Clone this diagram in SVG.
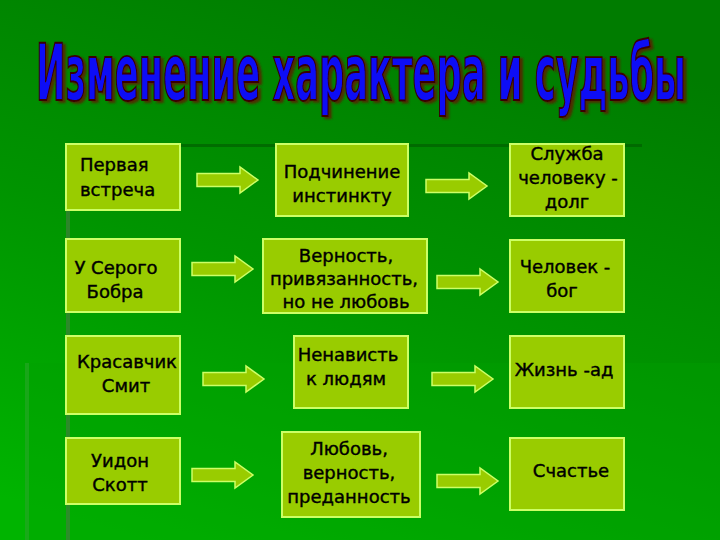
<svg xmlns="http://www.w3.org/2000/svg" width="720" height="540" viewBox="0 0 720 540">
<defs>
<linearGradient id="bg" x1="0.6" y1="0" x2="0.2" y2="1">
<stop offset="0" stop-color="#007c00"/>
<stop offset="0.5" stop-color="#009400"/>
<stop offset="1" stop-color="#00b400"/>
</linearGradient>
<filter id="sh" x="-10%" y="-50%" width="120%" height="200%">
<feDropShadow dx="3" dy="2" stdDeviation="0.8" flood-color="#5a1a00" flood-opacity="0.85"/>
</filter>
<path id="arr" d="M0,6.5 H43 V0 L61,13 L43,26 V19.5 H0 Z"/>
<style>
.box{fill:#99cc00;stroke:#ccff66;stroke-width:2}
.arrow{fill:#99cc00;stroke:#ccff66;stroke-width:1.5}
.t{font-family:"DejaVu Sans","Liberation Sans",sans-serif;font-size:18px;fill:#000;stroke:#000;stroke-width:0.4;text-anchor:middle}
.title{font-family:"DejaVu Sans Condensed","DejaVu Sans","Liberation Sans",sans-serif;font-weight:bold;font-size:42px;fill:#0a0af5;stroke:#3a0000;stroke-width:1.5;vector-effect:non-scaling-stroke}
</style>
</defs>
<rect x="0" y="0" width="720" height="540" fill="url(#bg)"/>
<rect x="25" y="363" width="695" height="177" fill="#00a000" opacity="0.35"/>
<rect x="25" y="363" width="4" height="177" fill="#2aa82a" opacity="0.6"/>
<rect x="66" y="210" width="4" height="330" fill="#3f7f3a" opacity="0.7"/>
<rect x="180" y="144" width="462" height="3" fill="#006000" opacity="0.7"/>

<g id="title" filter="url(#sh)">
<text class="title" x="361" y="53.8" text-anchor="middle" textLength="650" lengthAdjust="spacingAndGlyphs" transform="scale(1,1.86)">Изменение характера и судьбы</text>
</g>

<g id="connectors">
<use href="#arr" class="arrow" x="197" y="167"/>
<use href="#arr" class="arrow" x="426" y="173"/>
<use href="#arr" class="arrow" x="192" y="256"/>
<use href="#arr" class="arrow" x="437" y="269"/>
<use href="#arr" class="arrow" x="203" y="366"/>
<use href="#arr" class="arrow" x="432" y="366"/>
<use href="#arr" class="arrow" x="192" y="462"/>
<use href="#arr" class="arrow" x="437" y="468"/>
</g>

<g id="n1"><rect class="box" x="66" y="144" width="114" height="66"/>
<text class="t" x="80" y="171" style="text-anchor:start">Первая</text>
<text class="t" x="80" y="196" style="text-anchor:start">встреча</text></g>

<g id="n2"><rect class="box" x="276" y="144" width="132" height="72"/>
<text class="t" x="342" y="178">Подчинение</text>
<text class="t" x="342" y="202">инстинкту</text></g>

<g id="n3"><rect class="box" x="510" y="144" width="114" height="72"/>
<text class="t" x="567" y="160">Служба</text>
<text class="t" x="568" y="184">человеку -</text>
<text class="t" x="567" y="208">долг</text></g>

<g id="n4"><rect class="box" x="66" y="239" width="114" height="73"/>
<text class="t" x="116" y="274">У Серого</text>
<text class="t" x="115" y="298">Бобра</text></g>

<g id="n5"><rect class="box" x="263" y="239" width="164" height="74"/>
<text class="t" x="346" y="262">Верность,</text>
<text class="t" x="344" y="285">привязанность,</text>
<text class="t" x="346" y="308">но не любовь</text></g>

<g id="n6"><rect class="box" x="510" y="240" width="114" height="72"/>
<text class="t" x="565" y="273">Человек -</text>
<text class="t" x="562" y="297">бог</text></g>

<g id="n7"><rect class="box" x="66" y="336" width="114" height="78"/>
<text class="t" x="127" y="368">Красавчик</text>
<text class="t" x="126" y="392">Смит</text></g>

<g id="n8"><rect class="box" x="294" y="336" width="114" height="72"/>
<text class="t" x="348" y="361">Ненависть</text>
<text class="t" x="346" y="385">к людям</text></g>

<g id="n9"><rect class="box" x="510" y="336" width="114" height="72"/>
<text class="t" x="564" y="376">Жизнь -ад</text></g>

<g id="n10"><rect class="box" x="66" y="438" width="114" height="66"/>
<text class="t" x="120" y="467">Уидон</text>
<text class="t" x="120" y="491">Скотт</text></g>

<g id="n11"><rect class="box" x="282" y="432" width="138" height="85"/>
<text class="t" x="349" y="455">Любовь,</text>
<text class="t" x="349" y="479">верность,</text>
<text class="t" x="349" y="503">преданность</text></g>

<g id="n12"><rect class="box" x="510" y="438" width="114" height="72"/>
<text class="t" x="571" y="477">Счастье</text></g>
</svg>
